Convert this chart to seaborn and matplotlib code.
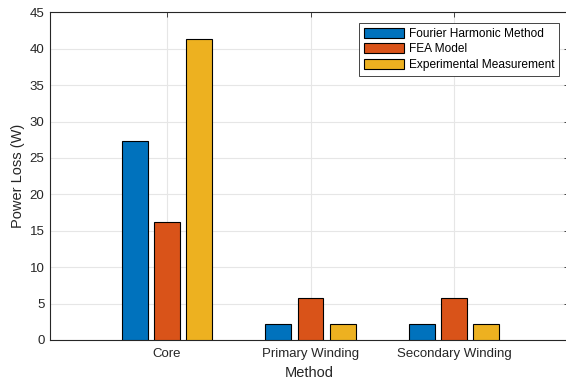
import matplotlib
matplotlib.use("Agg")
import matplotlib.pyplot as plt
import seaborn as sns
import pandas as pd

# Power loss per component and estimation method
components = ["Core", "Primary Winding", "Secondary Winding"]
methods = ["Fourier Harmonic Method", "FEA Model", "Experimental Measurement"]
fourier_loss = [27.35, 2.2, 2.25]
fea_loss = [16.2, 5.7, 5.7]
experimental_loss = [41.3, 2.2, 2.25]
yticks = [0, 5, 10, 15, 20, 25, 30, 35, 40, 45]

colors = ["#0072BD", "#D95319", "#EDB120"]

df = pd.DataFrame({
    "Method": components * 3,
    "Power Loss (W)": fourier_loss + fea_loss + experimental_loss,
    "Series": [m for m in methods for _ in components],
})

sns.set_style("white")
plt.rcParams["font.family"] = ["Liberation Sans", "DejaVu Sans"]
text_color = "#262626"

fig = plt.figure(figsize=(5.66, 3.81), dpi=100)
ax = fig.add_axes([50 / 566, 1 - 340 / 381, 519 / 566, (340 - 12.3) / 381])

sns.barplot(
    data=df, x="Method", y="Power Loss (W)", hue="Series",
    order=components, hue_order=methods, palette=colors,
    width=0.672, gap=0.2, edgecolor="black", linewidth=0.8,
    saturation=1, ax=ax, zorder=3,
)

ax.set_ylim(0, 45)
ax.set_yticks(yticks)
ax.set_xlim(-0.814, 2.80)

ax.grid(True, color="#e6e6e6", linewidth=0.8, zorder=0)
ax.set_axisbelow(True)

for side in ["left", "bottom", "top", "right"]:
    ax.spines[side].set_visible(True)
    ax.spines[side].set_color(text_color)
    ax.spines[side].set_linewidth(0.8)

ax.tick_params(direction="in", top=True, right=True, length=3.5, width=0.6,
               colors=text_color, labelsize=9.5)
ax.tick_params(axis="x", pad=6)
ax.tick_params(axis="y", pad=4)
ax.set_xlabel("Method", fontsize=10.5, color=text_color, labelpad=4)
ax.set_ylabel("Power Loss (W)", fontsize=10.5, color=text_color, labelpad=3)

leg = ax.legend(
    loc="upper right", bbox_to_anchor=(559 / 566, 1 - 23.3 / 381),
    bbox_transform=fig.transFigure, borderaxespad=0,
    fontsize=8.6, frameon=True, fancybox=False, shadow=False,
    handlelength=3.4, handleheight=0.92, handletextpad=0.35,
    labelspacing=0.26, borderpad=0.4, title=None,
)
leg.get_frame().set_edgecolor(text_color)
leg.get_frame().set_linewidth(0.6)
leg.get_frame().set_alpha(1)
for t in leg.get_texts():
    t.set_color("black")

fig.savefig("out.png", dpi=100)
